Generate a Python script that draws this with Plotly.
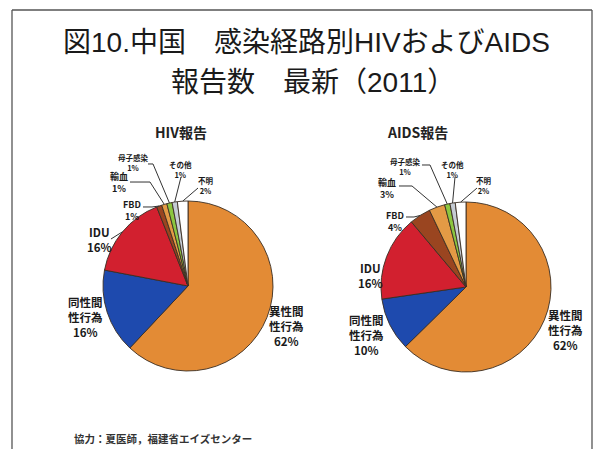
import math
import plotly.graph_objects as go

# ---------------- data ----------------
categories = ["異性間性行為", "同性間性行為", "IDU", "FBD", "輸血", "母子感染", "その他", "不明"]
category_display = ["異性間<br>性行為", "同性間<br>性行為", "IDU", "FBD", "輸血", "母子感染", "その他", "不明"]
hiv_values = [62, 16, 16, 1, 1, 1, 1, 2]
aids_values = [62, 10, 16, 4, 3, 1, 1, 2]
slice_colors = ["#E38B35", "#1E4AAE", "#D2202F", "#9A4520", "#E39A45", "#8CC63F", "#C5CBD3", "#FFFFFF"]

title_line1 = "図10.中国　感染経路別HIVおよびAIDS"
title_line2 = "報告数　最新（2011）"
hiv_title = "HIV報告"
aids_title = "AIDS報告"
footnote = "協力：夏医師，福建省エイズセンター"

# ---------------- layout / style ----------------
OFF = 8  # page body margin: figure starts 8px from window corner
W, H = 604 - OFF, 449 - OFF
R = 85
pies = [
    dict(values=hiv_values, cx=188, cy=286, title=hiv_title, tx=181, ty=132, tfs=14,
         labels=[
             dict(x=286, y=326, fs=11.5, line=None),
             dict(x=85, y=317, fs=11.5, line=None),
             dict(x=99, y=240, fs=11.5, line=[(111, 239)]),
             dict(x=132, y=210, fs=9, line=[(143, 207), (152, 207)]),
             dict(x=119, y=183, fs=9, line=[(130, 182), (150, 182)]),
             dict(x=133, y=162, fs=7.5, line=[(148, 164), (153, 164)]),
             dict(x=180, y=169, fs=7.5, line=[(181, 177)]),
             dict(x=206, y=186, fs=7.5, line=[(198, 188)]),
         ]),
    dict(values=aids_values, cx=466, cy=287, title=aids_title, tx=418, ty=132, tfs=14,
         labels=[
             dict(x=565, y=330, fs=11.5, line=None),
             dict(x=366, y=335, fs=11.5, line=None),
             dict(x=370, y=275, fs=11.5, line=None),
             dict(x=395, y=221, fs=9, line=[(406, 217), (414, 217)]),
             dict(x=387, y=189, fs=9, line=[(399, 186), (412, 186)]),
             dict(x=405, y=166, fs=7.5, line=[(422, 165), (430, 165)]),
             dict(x=452, y=169, fs=7.5, line=[(455, 177)]),
             dict(x=484, y=186, fs=7.5, line=[(477, 188)]),
         ]),
]

FONT = "Liberation Sans, Arial, Noto Sans CJK JP"
LBL_FONT = "Noto Sans CJK JP, Liberation Sans"


def px_to_paper(x, y):
    return (x - OFF) / W, 1 - (y - OFF) / H


fig = go.Figure()
annotations = []
shapes = []

for p in pies:
    cx, cy = p["cx"], p["cy"]
    fig.add_trace(go.Pie(
        values=p["values"], labels=categories, sort=False, direction="clockwise",
        rotation=0, textinfo="none", showlegend=False, hole=0,
        marker=dict(colors=slice_colors, line=dict(color="#3A2E22", width=0.9)),
        domain=dict(x=[(cx - R - OFF) / W, (cx + R - OFF) / W],
                    y=[1 - (cy + R - OFF) / H, 1 - (cy - R - OFF) / H]),
    ))
    tx, ty = px_to_paper(p["tx"], p["ty"])
    annotations.append(dict(x=tx, y=ty, xref="paper", yref="paper", text="<b>" + p["title"] + "</b>",
                            showarrow=False, xanchor="center", yanchor="middle",
                            font=dict(family=LBL_FONT, size=p["tfs"], color="#222")))
    total = sum(p["values"])
    cum = 0
    for i, v in enumerate(p["values"]):
        mid = (cum + v / 2) / total
        cum += v
        th = 2 * math.pi * mid
        tip = (cx + R * math.sin(th), cy - R * math.cos(th))
        lab = p["labels"][i]
        lx, ly = px_to_paper(lab["x"], lab["y"])
        annotations.append(dict(
            x=lx, y=ly, xref="paper", yref="paper",
            text="<b>" + category_display[i] + "<br>" + "%d%%" % v + "</b>",
            showarrow=False, align="center", xanchor="center", yanchor="middle",
            borderpad=0,
            font=dict(family=LBL_FONT, size=lab["fs"], color="#1a1a1a"),
        ))
        if lab["line"]:
            pts = lab["line"] + [tip]
            path = "M " + " L ".join("%.4f %.4f" % px_to_paper(a, b) for a, b in pts)
            shapes.append(dict(type="path", xref="paper", yref="paper", path=path,
                               line=dict(color="#333", width=1)))

# frame
fl, fr, ft = px_to_paper(12, 10)[0], px_to_paper(592, 10)[0], px_to_paper(12, 10)[1]
for x0, y0, x1, y1 in [(fl, ft, fr, ft), (fl, ft, fl, -0.1), (fr, ft, fr, -0.1)]:
    shapes.append(dict(type="line", xref="paper", yref="paper", x0=x0, y0=y0, x1=x1, y1=y1,
                       line=dict(color="#555", width=1.3)))

for txt, (x, y) in [(title_line1, (306, 42)), (title_line2, (313, 82))]:
    tx, ty = px_to_paper(x, y)
    annotations.append(dict(x=tx, y=ty, xref="paper", yref="paper", text=txt, showarrow=False,
                            xanchor="center", yanchor="middle",
                            font=dict(family=FONT, size=28, color="#1a1a1a")))
fx, fy = px_to_paper(72, 438)
annotations.append(dict(x=fx, y=fy, xref="paper", yref="paper", text="<b>" + footnote + "</b>",
                        showarrow=False, xanchor="left", yanchor="middle",
                        font=dict(family=LBL_FONT, size=10.5, color="#333")))

fig.update_layout(
    width=W, height=H, margin=dict(l=0, r=0, t=0, b=0),
    paper_bgcolor="white", plot_bgcolor="white",
    annotations=annotations, shapes=shapes,
)

fig.write_html("out.html")
